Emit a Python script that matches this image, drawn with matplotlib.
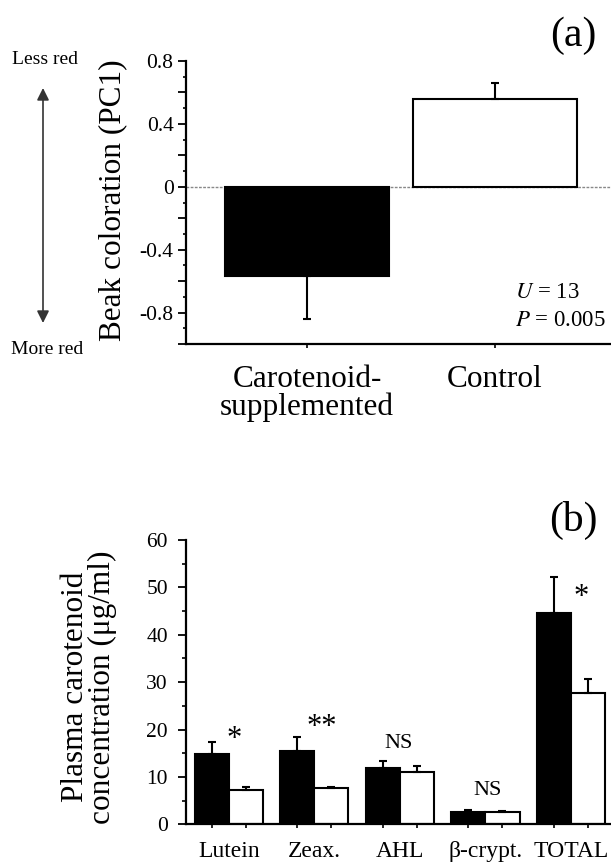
import matplotlib
matplotlib.use('Agg')
import matplotlib.pyplot as plt
import numpy as np
from matplotlib.ticker import MultipleLocator, FuncFormatter

plt.rcParams['font.family'] = ['Liberation Serif', 'DejaVu Serif']
plt.rcParams['mathtext.fontset'] = 'stix'
plt.rcParams['axes.unicode_minus'] = False

# ---- Data: panel (a) ----
groups_a = ['Carotenoid-\nsupplemented', 'Control']
pc1_mean = [-0.57, 0.56]
pc1_se = [0.27, 0.10]

# ---- Data: panel (b) ----
carotenoids = ['Lutein', 'Zeax.', 'AHL', 'β-crypt.', 'TOTAL']
supp_mean = [14.8, 15.5, 11.8, 2.7, 44.6]
supp_se = [2.6, 2.9, 1.6, 0.3, 7.6]
ctrl_mean = [7.2, 7.6, 11.0, 2.5, 27.8]
ctrl_se = [0.7, 0.3, 1.2, 0.4, 2.9]
sig_labels = ['*', '**', 'NS', 'NS', '*']

W, H = 611, 865
fig = plt.figure(figsize=(W / 100, H / 100), dpi=100)


def fmt_a(v, p):
    if abs(v) < 1e-9:
        return '0'
    if abs(round(v / 0.4) * 0.4 - v) < 1e-6:
        return f'{v:.1f}'
    return ''


# ================= Panel (a) =================
ax1 = fig.add_axes([186 / W, 1 - 344 / H, 425 / W, 283 / H])
xa = np.arange(len(groups_a))
ax1.axhline(0, color='#888888', lw=1.0, ls=(0, (2, 1)), zorder=1)
ax1.bar(xa, pc1_mean, width=0.87, color=['black', 'white'], edgecolor='black',
        linewidth=1.5, zorder=2)
lower = [s if m < 0 else 0 for m, s in zip(pc1_mean, pc1_se)]
upper = [s if m >= 0 else 0 for m, s in zip(pc1_mean, pc1_se)]
ax1.errorbar(xa, pc1_mean, yerr=[lower, upper], fmt='none', ecolor='black',
             elinewidth=1.5, capsize=3, capthick=1.5, zorder=3)
ax1.set_xlim(-0.644, 1.617)
ax1.set_ylim(-1.0, 0.8)
for s in ['top', 'right']:
    ax1.spines[s].set_visible(False)
for s in ['left', 'bottom']:
    ax1.spines[s].set_linewidth(1.6)
ax1.yaxis.set_major_locator(MultipleLocator(0.2))
ax1.yaxis.set_minor_locator(MultipleLocator(0.1))
ax1.yaxis.set_major_formatter(FuncFormatter(fmt_a))
ax1.tick_params(axis='y', which='major', length=5.5, width=1.3, labelsize=15.5, pad=3.5)
ax1.tick_params(axis='y', which='minor', length=2.2, width=1.2)
ax1.set_xticks(xa)
ax1.set_xticklabels(groups_a, fontsize=22.5, linespacing=0.95)
ax1.tick_params(axis='x', length=3, width=1.2, pad=12)

fig.text(113 / W, 1 - 200 / H, 'Beak coloration (PC1)', rotation=90,
         ha='center', va='center', fontsize=22.5)
fig.text(45 / W, 1 - 59 / H, 'Less red', ha='center', va='center', fontsize=14)
fig.text(47 / W, 1 - 350 / H, 'More red', ha='center', va='center', fontsize=14)
fig.text(573 / W, 1 - 36 / H, '(a)', ha='center', va='center', fontsize=30)
fig.text(515 / W, 1 - 293 / H, r'$U$ = 13', ha='left', va='center', fontsize=16.5)
fig.text(515 / W, 1 - 321 / H, r'$P$ = 0.005', ha='left', va='center', fontsize=16.5)
fig.patches.append(matplotlib.patches.FancyArrowPatch(
    (43 / W, 1 - 88 / H), (43 / W, 1 - 323 / H), transform=fig.transFigure,
    arrowstyle='<|-|>', mutation_scale=18, color='#333333', lw=1.2,
    shrinkA=0, shrinkB=0))

# ================= Panel (b) =================
ax2 = fig.add_axes([186 / W, 1 - 824.3 / H, 425 / W, 284.3 / H])
xb = np.arange(len(carotenoids))
bw = 0.4
ax2.bar(xb - bw / 2, supp_mean, width=bw, color='black', edgecolor='black',
        linewidth=1.5, zorder=2)
ax2.bar(xb + bw / 2, ctrl_mean, width=bw, color='white', edgecolor='black',
        linewidth=1.5, zorder=2)
ax2.errorbar(xb - bw / 2, supp_mean, yerr=[np.zeros(len(xb)), supp_se], fmt='none',
             ecolor='black', elinewidth=1.5, capsize=3, capthick=1.5, zorder=3)
ax2.errorbar(xb + bw / 2, ctrl_mean, yerr=[np.zeros(len(xb)), ctrl_se], fmt='none',
             ecolor='black', elinewidth=1.5, capsize=3, capthick=1.5, zorder=3)
ax2.set_xlim(-0.5, 4.47)
ax2.set_ylim(0, 60)
for s in ['top', 'right']:
    ax2.spines[s].set_visible(False)
for s in ['left', 'bottom']:
    ax2.spines[s].set_linewidth(1.6)
ax2.yaxis.set_major_locator(MultipleLocator(10))
ax2.yaxis.set_minor_locator(MultipleLocator(5))
ax2.tick_params(axis='y', which='major', length=6, width=1.3, labelsize=15.5, pad=7)
ax2.tick_params(axis='y', which='minor', length=2.8, width=1.2)
ax2.set_xticks(xb)
ax2.set_xticklabels(carotenoids, fontsize=17)
ax2.set_xticks(np.concatenate([xb - bw / 2, xb + bw / 2]), minor=True)
ax2.tick_params(axis='x', which='major', length=0, pad=12)
ax2.tick_params(axis='x', which='minor', length=3, width=1.2)

sig_x = [0.06, 1.09, 1.99, 3.03, 4.12]
sig_y = [18.0, 20.4, 17.0, 7.2, 47.9]
for lab, sx, sy in zip(sig_labels, sig_x, sig_y):
    ax2.text(sx, sy, lab, ha='center', va='center',
             fontsize=22 if '*' in lab else 16)

fig.text(89 / W, 1 - 687 / H, 'Plasma carotenoid\nconcentration (μg/ml)', rotation=90,
         ha='center', va='center', fontsize=22.5, linespacing=0.95)
fig.text(573 / W, 1 - 520 / H, '(b)', ha='center', va='center', fontsize=30)

fig.savefig('out.png', dpi=100)
